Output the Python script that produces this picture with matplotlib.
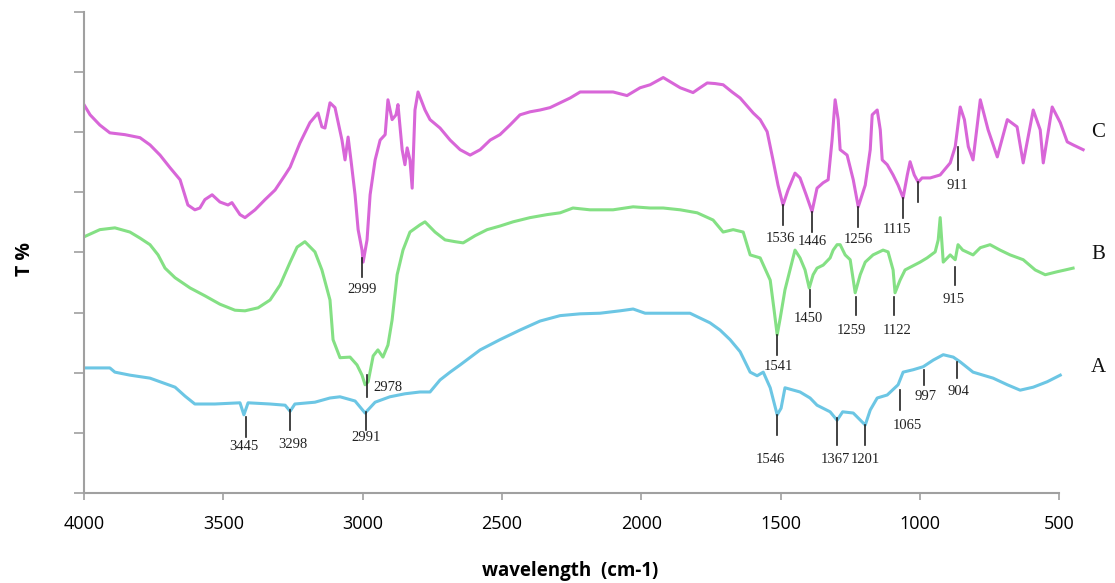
import numpy as np
import matplotlib
matplotlib.use("Agg")
import matplotlib.pyplot as plt

# FTIR spectra, wavenumber (cm-1) vs transmittance (arbitrary offset units)
wn_c = [4000, 3978, 3943, 3907, 3853, 3799, 3763, 3727, 3691, 3655, 3627, 3602, 3584, 3566,
        3540, 3512, 3483, 3469, 3440, 3422, 3386, 3350, 3314, 3278, 3260, 3225, 3189, 3160,
        3146, 3135, 3117, 3099, 3074, 3063, 3052, 3041, 3027, 3016, 3002, 2998, 2984, 2973,
        2955, 2937, 2919, 2909, 2894, 2880, 2873, 2858, 2848, 2840, 2830, 2822, 2812, 2801,
        2776, 2758, 2722, 2686, 2650, 2614, 2578, 2542, 2507, 2471, 2435, 2399, 2363, 2327,
        2291, 2255, 2219, 2166, 2101, 2051, 2004, 1968, 1921, 1896, 1860, 1814, 1789, 1763,
        1735, 1706, 1674, 1645, 1598, 1573, 1548, 1527, 1509, 1491, 1473, 1448, 1430, 1408,
        1387, 1369, 1347, 1329, 1315, 1304, 1293, 1286, 1261, 1239, 1221, 1196, 1178, 1171,
        1153, 1142, 1135, 1117, 1096, 1078, 1060, 1045, 1035, 1020, 1006, 992, 963, 927,
        891, 873, 855, 840, 826, 809, 783, 755, 722, 686, 651, 629, 593, 568, 557, 525,
        496, 471, 450, 414]
t_c = [64.6, 62.9, 61.2, 59.9, 59.6, 59.1, 57.9, 56.2, 54.1, 52.1, 47.9, 47.1, 47.4, 48.8,
       49.6, 48.4, 47.9, 48.3, 46.3, 45.8, 47.1, 48.8, 50.4, 52.9, 54.2, 58.2, 61.6, 63.2,
       60.9, 60.7, 64.9, 64.1, 58.7, 55.4, 59.2, 55.1, 49.6, 43.8, 40.4, 38.4, 42.1, 49.6,
       55.4, 58.7, 59.6, 65.4, 62.1, 62.9, 64.6, 57.1, 54.6, 57.4, 55.4, 50.7, 63.7, 66.7,
       63.7, 62.1, 60.7, 58.7, 57.1, 56.2, 57.1, 58.7, 59.6, 61.2, 62.9, 63.4, 63.7, 64.1,
       64.9, 65.7, 66.7, 66.7, 66.7, 66.1, 67.4, 67.9, 69.1, 68.4, 67.4, 66.6, 67.4, 68.2,
       68.1, 67.9, 66.7, 65.7, 63.2, 62.1, 60.1, 55.4, 51.2, 47.9, 50.4, 53.2, 52.4, 49.6,
       46.8, 50.7, 51.6, 52.1, 58.7, 65.4, 62.1, 57.1, 56.2, 52.1, 47.6, 51.2, 57.1, 62.9,
       63.7, 60.4, 55.4, 54.6, 52.9, 51.2, 49.1, 52.9, 55.1, 52.9, 51.7, 52.4, 52.4, 52.9,
       54.9, 57.6, 64.2, 62.1, 57.6, 55.4, 65.4, 60.4, 55.9, 62.1, 60.9, 54.9, 63.7, 60.4,
       54.9, 64.2, 61.6, 58.4, 57.9, 57.1]

wn_b = [4000, 3943, 3889, 3835, 3799, 3763, 3734, 3709, 3673, 3619, 3566, 3512, 3458, 3422,
        3375, 3332, 3296, 3260, 3235, 3207, 3171, 3146, 3117, 3106, 3081, 3045, 3020, 3002,
        2991, 2980, 2962, 2945, 2927, 2909, 2894, 2876, 2855, 2830, 2794, 2776, 2740, 2704,
        2668, 2639, 2596, 2553, 2507, 2460, 2399, 2338, 2291, 2245, 2184, 2101, 2029, 1968,
        1921, 1860, 1799, 1742, 1706, 1670, 1634, 1609, 1573, 1537, 1523, 1512, 1501, 1484,
        1466, 1448, 1430, 1412, 1397, 1383, 1369, 1347, 1322, 1311, 1297, 1286, 1268, 1250,
        1232, 1214, 1196, 1168, 1132, 1114, 1096, 1089, 1071, 1053, 1024, 999, 974, 945,
        934, 927, 916, 891, 873, 863, 846, 809, 783, 748, 712, 676, 629, 586, 550, 507,
        478, 450]
t_b = [42.6, 43.8, 44.1, 43.4, 42.4, 41.3, 39.6, 37.4, 35.8, 34.1, 32.8, 31.4, 30.4, 30.3,
       30.8, 32.1, 34.6, 38.4, 40.9, 41.8, 40.1, 37.1, 32.1, 25.5, 22.5, 22.6, 21.3, 19.6,
       18.0, 18.5, 22.8, 23.8, 22.6, 24.6, 28.8, 36.3, 40.4, 43.4, 44.6, 45.1, 43.4, 42.1,
       41.8, 41.6, 42.8, 43.8, 44.4, 45.1, 45.8, 46.3, 46.6, 47.4, 47.1, 47.1, 47.6, 47.4,
       47.4, 47.1, 46.6, 45.4, 43.4, 43.8, 43.4, 39.6, 39.1, 35.4, 30.4, 26.3, 29.1, 33.8,
       37.1, 40.4, 39.1, 37.1, 34.1, 36.3, 37.4, 37.9, 39.1, 40.4, 41.3, 41.3, 39.6, 38.8,
       33.3, 36.3, 38.4, 39.6, 40.4, 40.1, 37.1, 33.3, 35.4, 37.1, 37.8, 38.4, 39.1, 40.1,
       42.1, 45.8, 38.4, 39.6, 38.8, 41.3, 40.4, 39.6, 40.8, 41.3, 40.4, 39.6, 38.8, 37.1,
       36.3, 36.8, 37.1, 37.4]

wn_a = [4000, 3907, 3889, 3835, 3763, 3673, 3637, 3602, 3530, 3440, 3426, 3411, 3332, 3278,
        3260, 3243, 3171, 3117, 3081, 3027, 2991, 2955, 2902, 2848, 2794, 2758, 2722, 2686,
        2650, 2578, 2507, 2435, 2363, 2291, 2219, 2148, 2076, 2029, 1986, 1932, 1825, 1789,
        1753, 1717, 1681, 1645, 1609, 1584, 1562, 1537, 1512, 1498, 1484, 1430, 1394, 1369,
        1322, 1297, 1277, 1239, 1196, 1178, 1153, 1117, 1078, 1060, 1024, 988, 952, 916,
        880, 855, 809, 737, 686, 640, 593, 543, 496]
t_a = [20.8, 20.8, 20.1, 19.6, 19.1, 17.6, 16.1, 14.8, 14.8, 15.0, 13.0, 15.0, 14.8, 14.6,
       13.6, 14.8, 15.1, 15.8, 16.0, 15.3, 13.3, 15.1, 16.0, 16.5, 16.8, 16.8, 18.8, 20.1,
       21.3, 23.8, 25.5, 27.1, 28.6, 29.5, 29.8, 29.9, 30.3, 30.6, 29.9, 29.9, 29.9, 29.1,
       28.3, 27.1, 25.5, 23.5, 20.1, 19.5, 20.1, 17.5, 13.0, 14.1, 17.5, 16.8, 15.8, 14.6,
       13.5, 12.1, 13.5, 13.3, 11.3, 13.8, 15.8, 16.3, 18.0, 20.1, 20.5, 21.0, 22.1, 23.0,
       22.6, 21.8, 20.1, 19.1, 18.0, 17.1, 17.6, 18.5, 19.6]

# peak marks: label, stick wavenumber, stick top, stick bottom, label x, label y
peaks = [
    ("2999", 3002, 39.1, 35.9, 3002, 33.8),
    ("1536", 1491, 47.9, 44.6, 1501, 42.4),
    ("1446", 1387, 46.8, 43.4, 1387, 41.8),
    ("1256", 1221, 47.6, 44.3, 1221, 42.1),
    ("1115", 1060, 49.1, 45.8, 1081, 43.9),
    ("", 1006, 51.7, 48.4, 1006, 47.0),
    ("911", 862, 57.6, 53.7, 866, 51.2),
    ("1450", 1394, 33.8, 30.9, 1401, 29.1),
    ("1259", 1229, 32.6, 29.6, 1247, 27.1),
    ("1122", 1092, 32.6, 29.6, 1081, 27.1),
    ("915", 873, 37.6, 34.6, 880, 32.1),
    ("1541", 1512, 26.3, 23.0, 1509, 21.0),
    ("3445", 3418, 12.6, 9.3, 3426, 7.7),
    ("3298", 3260, 13.8, 10.5, 3250, 8.0),
    ("2991", 2988, 13.5, 10.5, 2988, 9.2),
    ("1546", 1512, 13.0, 9.7, 1537, 5.5),
    ("1367", 1297, 12.5, 8.0, 1304, 5.5),
    ("1201", 1196, 11.3, 8.0, 1196, 5.5),
    ("1065", 1071, 17.1, 13.8, 1045, 11.3),
    ("997", 985, 20.5, 18.0, 981, 16.0),
    ("904", 866, 21.8, 19.1, 862, 16.8),
]
side_peak = ("2978", 2984, 19.6, 16.0, 2962, 17.6)

series_names = ["C", "B", "A"]
series_label_y = [59.9, 39.6, 20.8]

fig = plt.figure(figsize=(11.15, 5.83), dpi=100)
ax = fig.add_axes([0.0753, 0.1544, 0.8996, 0.825])

ax.plot(wn_c, t_c, color="#d866d8", lw=2.2)
ax.plot(wn_b, t_b, color="#84e084", lw=2.2)
ax.plot(wn_a, t_a, color="#6cc6e4", lw=2.2)

serif = "Liberation Serif"
for lab, x, y0, y1, tx, ty in peaks:
    ax.plot([x, x], [y0, y1], color="#222222", lw=1.2)
    if lab:
        ax.text(tx, ty, lab, ha="center", va="center", family=serif,
                fontsize=10.5, color="#222222")
lab, x, y0, y1, tx, ty = side_peak
ax.plot([x, x], [y0, y1], color="#222222", lw=1.2)
ax.text(tx, ty, lab, ha="left", va="center", family=serif, fontsize=10.5, color="#222222")

for name, y in zip(series_names, series_label_y):
    ax.text(360, y, name, ha="center", va="center", family=serif, fontsize=15,
            color="#111111", clip_on=False)

ax.set_xlim(4000, 400)
ax.set_ylim(0, 80)
ax.set_xticks([4000, 3500, 3000, 2500, 2000, 1500, 1000, 500])
ax.set_yticks(np.arange(0, 81, 10))
ax.set_yticklabels([])
for s in ["top", "right"]:
    ax.spines[s].set_visible(False)
for s in ["left", "bottom"]:
    ax.spines[s].set_color("#a0a0a0")
    ax.spines[s].set_linewidth(1.5)
ax.spines["bottom"].set_bounds(500, 4000)
ax.tick_params(axis="x", direction="out", length=5, width=1.2, color="#a0a0a0",
               pad=11, labelsize=13)
ax.tick_params(axis="y", direction="out", length=7, width=1.2, color="#a0a0a0")
for t in ax.get_xticklabels():
    t.set_family("Open Sans")

fig.text(0.511, 0.021, "wavelength  (cm-1)", ha="center", va="center",
         family="Open Sans", fontweight="bold", fontsize=13.5)
fig.text(0.022, 0.555, "T %", rotation=90, ha="center", va="center",
         family="Open Sans", fontweight="bold", fontsize=14)

fig.savefig("out.png", dpi=100)
